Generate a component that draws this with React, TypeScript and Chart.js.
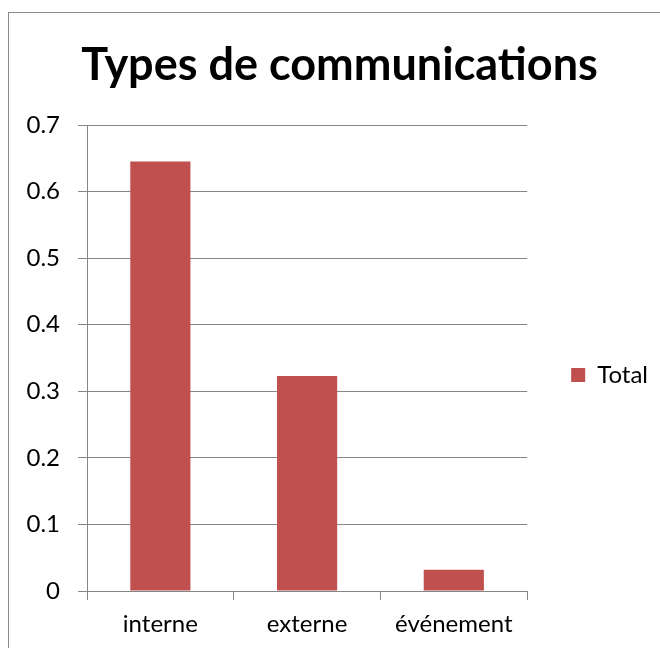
import React, { useEffect, useRef } from "react";
import { Chart, registerables } from "chart.js";

Chart.register(...registerables);

const titleText = "Types de communications";
const categories = ["interne", "externe", "événement"];
const seriesName = "Total";
const totals = [0.645, 0.323, 0.032];
const yMin = 0;
const yMax = 0.7;
const yStep = 0.1;

const FONT = "Lato, 'Open Sans', sans-serif";
const GRID = "#868686";
const CX = 21;
const CW = 637;
const CH = 640;

export default function App() {
  const ref = useRef<HTMLCanvasElement | null>(null);
  useEffect(() => {
    if (!ref.current) return;
    const chart = new Chart(ref.current, {
      type: "bar",
      data: {
        labels: categories,
        datasets: [
          {
            label: seriesName,
            data: totals,
            backgroundColor: "#C0504D",
            borderWidth: 0,
            categoryPercentage: 1,
            barPercentage: 0.41,
          },
        ],
      },
      options: {
        animation: false,
        responsive: false,
        devicePixelRatio: 1,
        layout: { padding: 0 },
        plugins: {
          title: {
            display: true,
            text: titleText,
            color: "#000",
            font: { family: FONT, size: 45, weight: "bold" },
            padding: { top: 25, bottom: 33 },
          },
          legend: {
            position: "right",
            title: {
              display: true,
              text: " ",
              font: { size: 10 },
              padding: { top: 72, bottom: 0 },
            },
            labels: {
              boxWidth: 14,
              boxHeight: 14,
              padding: 44,
              color: "#000",
              font: { family: FONT, size: 24 },
            },
          },
          tooltip: { enabled: false },
        },
        scales: {
          x: {
            grid: {
              display: true,
              drawOnChartArea: false,
              drawTicks: true,
              tickLength: 9,
              color: GRID,
              offset: true,
            },
            border: { display: true, color: GRID },
            ticks: { color: "#000", padding: 10, font: { family: FONT, size: 24 } },
            afterFit: (s: any) => {
              s.height = 62;
            },
          },
          y: {
            min: yMin,
            max: yMax,
            grid: { color: GRID, tickLength: 9, drawTicks: true },
            border: { display: true, color: GRID },
            ticks: {
              stepSize: yStep,
              color: "#000",
              padding: 18,
              font: { family: FONT, size: 24 },
              callback: (v: any) => (Number(v) === 0 ? "0" : Number(v).toFixed(1)),
            },
            afterFit: (s: any) => {
              s.width = 87 - CX;
            },
          },
        },
      },
    });
    return () => chart.destroy();
  }, []);
  return (
    <div
      style={{
        position: "fixed",
        left: 0,
        top: 0,
        width: 660,
        height: 648,
        overflow: "hidden",
        background: "#fff",
      }}
    >
      <div
        style={{
          position: "absolute",
          left: 8,
          top: 12,
          width: 700,
          height: 700,
          borderLeft: "1px solid #8c8c8c",
          borderTop: "1px solid #8c8c8c",
        }}
      />
      <canvas
        ref={ref}
        width={CW}
        height={CH}
        style={{ position: "absolute", left: CX, top: 13, display: "block" }}
      />
    </div>
  );
}
